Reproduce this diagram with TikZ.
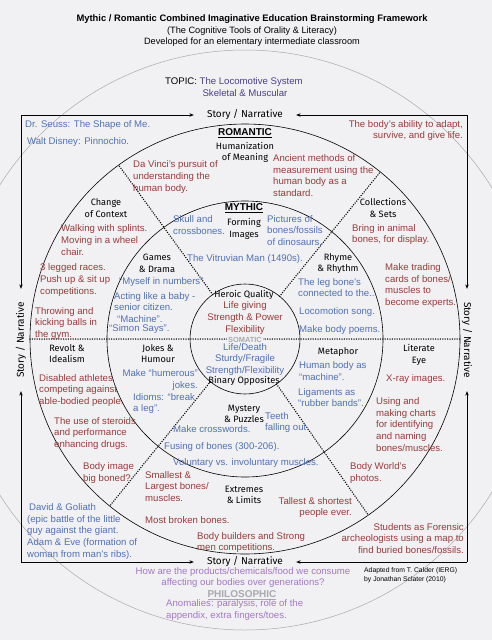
\documentclass[tikz,border=0pt]{standalone}
\usepackage{fontspec}
\setmainfont{Liberation Sans}
\newfontfamily\handfont{Fira Sans}
\usetikzlibrary{arrows.meta,calc}
\definecolor{papier}{HTML}{F1F1F3}
\definecolor{rot}{HTML}{983A3A}
\definecolor{blau}{HTML}{5070B4}
\definecolor{lila}{HTML}{A377C6}
\definecolor{topik}{HTML}{4B3E8C}
\definecolor{hgrau}{HTML}{A9A9AE}
\tikzset{
  txt/.style={inner sep=0pt,align=left,font=\fontsize{9.6}{11.7}\selectfont},
  rtxt/.style={txt,text=rot},
  btxt/.style={txt,text=blau},
  ptxt/.style={txt,text=lila},
  lbl/.style={inner sep=0pt,align=center,font=\handfont\fontsize{9.2}{11.6}\selectfont},
  story/.style={lbl,inner xsep=13pt,font=\handfont\fontsize{10}{12}\selectfont},
  head/.style={inner sep=0pt,font=\bfseries\fontsize{10}{12}\selectfont},
  ring/.style={line width=0.6pt},
  sep/.style={line width=1.5pt,dash pattern=on 0pt off 2.4pt,line cap=round},
  frame/.style={-{Stealth[length=4.5pt,width=3.5pt]},line width=0.8pt},
}

\begin{document}
\begin{tikzpicture}[x=1pt,y=-1pt]
  \useasboundingbox (0,0) rectangle (492,640);
  \fill[papier] (0,0) rectangle (492,640);
  \clip (0,0) rectangle (492,640);
  \coordinate (c) at (245,339);

  % circles
  \draw[hgrau,line width=0.5pt] (245,340) circle[radius=290];
  \draw[ring] (c) circle[radius=215];
  \draw[ring] (c) circle[radius=138];
  \draw[ring] (c) circle[radius=55];

  % dotted separators
  \draw[sep] ($(c)+(-215,0)$) -- ($(c)+(215,0)$);
  \foreach \a in {-126,-51,129,55}
    \draw[sep] ($(c)+(\a:55)$) -- ($(c)+(\a:215)$);

  % header
  \node[head,font=\bfseries\fontsize{9.4}{11}\selectfont] (title) at (252,19) {Mythic / Romantic Combined Imaginative Education Brainstorming Framework};
  \node[txt,align=center,font=\fontsize{9.2}{11}\selectfont] (sub) at (252,36.5) {(The Cognitive Tools of Orality \& Literacy)\\Developed for an elementary intermediate classroom};
  \node[txt,anchor=west] (topic) at (165,82) {TOPIC: \textcolor{topik}{The Locomotive System}};
  \node[txt,text=topik] (topic2) at (245,93) {Skeletal \& Muscular};

  % frame with story labels
  \coordinate (tl) at (21,115);
  \coordinate (tr) at (467,115);
  \coordinate (bl) at (21,562);
  \coordinate (br) at (467,562);
  \node[story] (snT) at (245,115) {Story / Narrative};
  \node[story] (snB) at (245,562) {Story / Narrative};
  \node[story,rotate=90] (snL) at (21,340) {Story / Narrative};
  \node[story,rotate=-90] (snR) at (467,340) {Story / Narrative};
  \draw[frame] (tl) -- (snT.west);
  \draw[frame] (tr) -- (snT.east);
  \draw[frame] (bl) -- (snB.west);
  \draw[frame] (br) -- (snB.east);
  \draw[frame] (tl) -- (snL.east);
  \draw[frame] (bl) -- (snL.west);
  \draw[frame] (tr) -- (snR.west);
  \draw[frame] (br) -- (snR.east);

  % corners of the frame
  \node[btxt,anchor=west] (seuss) at (25,125) {Dr. Seuss: The Shape of Me.};
  \node[btxt,anchor=west] (disney) at (27,142) {Walt Disney: Pinnochio.};
  \node[rtxt,anchor=east,align=right] (adapt) at (463,130.5) {The body's ability to adapt,\\survive, and give life.};
  \node[btxt,anchor=west] (david) at (27,531.5) {\hspace{2pt}David \& Goliath\\(epic battle of the little\\guy against the giant.\\Adam \& Eve (formation of\\woman from man's ribs).};
  \node[rtxt,anchor=east,align=right] (forensic) at (464,538.5) {Students as Forensic\\archeologists using a map to\\find buried bones/fossils.};

  % romantic ring
  \node[head] (romantic) at (245,133) {\underline{ROMANTIC}};
  \node[lbl] (human) at (245,152.5) {Humanization\\of Meaning};
  \node[rtxt,anchor=west] (davinci) at (133,177) {Da Vinci's pursuit of\\understanding the\\human body.};
  \node[rtxt,anchor=west] (ancient) at (273,175.5) {Ancient methods of\\measurement using the\\human body as a\\standard.};
  \node[lbl] (context) at (106,208) {Change\\of Context};
  \node[rtxt,anchor=west] (splints) at (61,240) {Walking with splints.\\Moving in a wheel\\chair.};
  \node[rtxt,anchor=west] (races) at (40,280) {3 legged races.\\Push up \& sit up\\competitions.};
  \node[rtxt,anchor=west] (throwing) at (35,323.5) {Throwing and\\kicking balls in\\the gym.};
  \node[lbl] (collect) at (383,208) {Collections\\\& Sets};
  \node[rtxt,anchor=west] (animal) at (352,234.5) {Bring in animal\\bones, for display.};
  \node[rtxt,anchor=west] (cards) at (385,285.5) {Make trading\\cards of bones/\\muscles to\\become experts.};
  \node[lbl] (revolt) at (67,353.5) {Revolt \&\\Idealism};
  \node[rtxt,anchor=west] (disabled) at (39,390.5) {Disabled athletes\\competing against\\able-bodied people.};
  \node[rtxt,anchor=west] (steroids) at (54,433.5) {The use of steroids\\and performance\\enhancing drugs.};
  \node[rtxt,anchor=west] (bodyimg) at (83,473) {Body image\\big boned?};
  \node[lbl] (literate) at (419,355) {Literate\\Eye};
  \node[rtxt,anchor=west] (xray) at (386,379.5) {X-ray images.};
  \node[rtxt,anchor=west] (charts) at (376,424.5) {Using and\\making charts\\for identifying\\and naming\\bones/muscles.};
  \node[rtxt,anchor=west] (bodyworld) at (350,473) {Body World's\\photos.};
  \node[lbl] (extremes) at (244,495) {Extremes\\\& Limits};
  \node[rtxt,anchor=west] (smallest) at (145,486.5) {Smallest \&\\Largest bones/\\muscles.};
  \node[rtxt,anchor=east,align=right] (tallest) at (352,507.5) {Tallest \& shortest\\people ever.};
  \node[rtxt,anchor=west] (broken) at (145,520) {Most broken bones.};
  \node[rtxt,anchor=west] (builders) at (197,542.5) {Body builders and Strong\\men competitions.};

  % mythic ring
  \node[head] (mythic) at (244,208) {\underline{MYTHIC}};
  \node[lbl] (forming) at (244,229) {Forming\\Images};
  \node[btxt,anchor=west] (skull) at (173,225) {Skull and\\crossbones.};
  \node[btxt,anchor=west] (fossils) at (267,230.5) {Pictures of\\bones/fossils\\of dinosaurs.};
  \node[btxt] (vitruv) at (245,259.5) {The Vitruvian Man (1490s).};
  \node[lbl] (games) at (157,263.5) {Games\\\& Drama};
  \node[btxt,anchor=west] (numbers) at (119,282) {``Myself in numbers''.};
  \node[btxt,anchor=west] (baby) at (114,301.5) {Acting like a baby -\\senior citizen.};
  \node[btxt,anchor=west] (machine) at (117,319) {``Machine''.};
  \node[btxt,anchor=west] (simon) at (109,329.5) {``Simon Says''.};
  \node[lbl] (rhyme) at (338,263.5) {Rhyme\\\& Rhythm};
  \node[btxt,anchor=west] (legbone) at (298,287.5) {The leg bone's\\connected to the...};
  \node[btxt,anchor=west] (song) at (299,312) {Locomotion song.};
  \node[btxt,anchor=west] (poems) at (299,330) {Make body poems.};
  \node[lbl] (jokes) at (158,353.5) {Jokes \&\\Humour};
  \node[btxt,anchor=east,align=right] (humerous) at (198,380) {Make ``humerous''\\jokes.};
  \node[btxt,anchor=west] (idioms) at (133,403.5) {Idioms: ``break\\a leg''.};
  \node[lbl] (metaphor) at (338,352) {Metaphor};
  \node[btxt,anchor=west] (hbody) at (299,371) {Human body as\\``machine''.};
  \node[btxt,anchor=west] (ligam) at (298,397.5) {Ligaments as\\``rubber bands''.};
  \node[lbl] (mystery) at (244,414) {Mystery\\\& Puzzles};
  \node[btxt,anchor=west] (teeth) at (265,422.5) {Teeth\\falling out.};
  \node[btxt,anchor=west] (cross) at (173,429) {Make crosswords.};
  \node[btxt,anchor=west] (fusing) at (164,447) {Fusing of bones (300-206).};
  \node[btxt,anchor=west] (volunt) at (173,463.5) {Voluntary vs. involuntary muscles.};

  % somatic core
  \node[lbl] (heroic) at (244,295) {Heroic Quality};
  \node[rtxt,align=center] (life) at (245,318) {Life giving\\Strength \& Power\\Flexibility};
  \node[inner sep=1pt,fill=papier,text=hgrau,font=\bfseries\fontsize{7.4}{9}\selectfont] (somatic) at (245,340) {SOMATIC};
  \node[btxt,align=center] (binary) at (245,359.5) {Life/Death\\Sturdy/Fragile\\Strength/Flexibility};
  \node[lbl] (opp) at (244,381) {Binary Opposites};

  % philosophic
  \node[ptxt,align=center] (how) at (243,577.5) {How are the products/chemicals/food we consume\\affecting our bodies over generations?};
  \node[head,text=hgrau] (philo) at (242,595) {\underline{PHILOSOPHIC}};
  \node[ptxt,anchor=west] (anomal) at (166,610) {Anomalies: paralysis, role of the\\appendix, extra fingers/toes.};
  \node[txt,anchor=west,font=\fontsize{6.8}{9}\selectfont] (credit) at (364,575.5) {Adapted from T. Calder (IERG)\\by Jonathan Sclater (2010)};
\end{tikzpicture}
\end{document}
